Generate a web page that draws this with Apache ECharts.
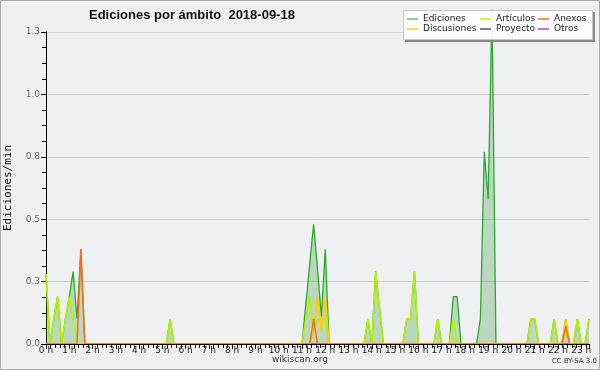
<!DOCTYPE html>
<html>
<head>
<meta charset="utf-8">
<script src="https://cdn.jsdelivr.net/npm/echarts@6/dist/echarts.min.js"></script>
<style>
  html, body { margin: 0; padding: 0; background: #f0f0f0; }
  #box { width: 600px; height: 370px; }
</style>
</head>
<body>
<div id="box"></div>
<script>
// valores cada 10 min (una fila = una hora), ediciones/min
var ediciones = [
	0.28, 0, 0.1, 0.19, 0, 0.1,      // 0 h
	0.19, 0.29, 0.1, 0.38, 0, 0,     // 1 h
	0, 0, 0, 0, 0, 0,                // 2 h
	0, 0, 0, 0, 0, 0,                // 3 h
	0, 0, 0, 0, 0, 0,                // 4 h
	0, 0, 0.1, 0, 0, 0,              // 5 h
	0, 0, 0, 0, 0, 0,                // 6 h
	0, 0, 0, 0, 0, 0,                // 7 h
	0, 0, 0, 0, 0, 0,                // 8 h
	0, 0, 0, 0, 0, 0,                // 9 h
	0, 0, 0, 0, 0, 0,                // 10 h
	0, 0.16, 0.32, 0.48, 0.3, 0.11,  // 11 h
	0.38, 0, 0, 0, 0, 0,             // 12 h
	0, 0, 0, 0, 0, 0.1,              // 13 h
	0, 0.29, 0.14, 0, 0, 0,          // 14 h
	0, 0, 0, 0.1, 0.1, 0.29,         // 15 h
	0, 0, 0, 0, 0, 0.1,              // 16 h
	0, 0, 0, 0.19, 0.19, 0,          // 17 h
	0, 0, 0, 0, 0.1, 0.77,           // 18 h
	0.58, 1.34, 0, 0, 0, 0,          // 19 h
	0, 0, 0, 0, 0, 0.1,              // 20 h
	0.1, 0, 0, 0, 0, 0.1,            // 21 h
	0, 0, 0.1, 0, 0, 0.1,            // 22 h
	0, 0, 0.1                        // 23 h
];
var articulos = [
	0.28, 0, 0.1, 0.19, 0, 0.1,
	0.19, 0.1, 0, 0, 0, 0,
	0, 0, 0, 0, 0, 0,
	0, 0, 0, 0, 0, 0,
	0, 0, 0, 0, 0, 0,
	0, 0, 0.1, 0, 0, 0,
	0, 0, 0, 0, 0, 0,
	0, 0, 0, 0, 0, 0,
	0, 0, 0, 0, 0, 0,
	0, 0, 0, 0, 0, 0,
	0, 0, 0, 0, 0, 0,
	0, 0.1, 0.19, 0.05, 0.1, 0.1,
	0.1, 0, 0, 0, 0, 0,
	0, 0, 0, 0, 0, 0.1,
	0, 0.29, 0.14, 0, 0, 0,
	0, 0, 0, 0.1, 0.1, 0.29,
	0, 0, 0, 0, 0, 0.1,
	0, 0, 0, 0.1, 0, 0,
	0, 0, 0, 0, 0, 0,
	0, 0, 0, 0, 0, 0,
	0, 0, 0, 0, 0, 0.1,
	0.1, 0, 0, 0, 0, 0.1,
	0, 0, 0.05, 0, 0, 0.1,
	0, 0, 0.1
];
var anexos = [
	0, 0, 0, 0, 0, 0,
	0, 0, 0, 0.38, 0, 0,
	0, 0, 0, 0, 0, 0,
	0, 0, 0, 0, 0, 0,
	0, 0, 0, 0, 0, 0,
	0, 0, 0, 0, 0, 0,
	0, 0, 0, 0, 0, 0,
	0, 0, 0, 0, 0, 0,
	0, 0, 0, 0, 0, 0,
	0, 0, 0, 0, 0, 0,
	0, 0, 0, 0, 0, 0,
	0, 0, 0, 0.1, 0, 0,
	0, 0, 0, 0, 0, 0,
	0, 0, 0, 0, 0, 0,
	0, 0, 0, 0, 0, 0,
	0, 0, 0, 0, 0, 0,
	0, 0, 0, 0, 0, 0,
	0, 0, 0, 0, 0, 0,
	0, 0, 0, 0, 0, 0,
	0, 0, 0, 0, 0, 0,
	0, 0, 0, 0, 0, 0,
	0, 0, 0, 0, 0, 0,
	0, 0, 0.07, 0, 0, 0,
	0, 0, 0
];
var discusiones = [
	0, 0, 0, 0, 0, 0,
	0, 0, 0, 0, 0, 0,
	0, 0, 0, 0, 0, 0,
	0, 0, 0, 0, 0, 0,
	0, 0, 0, 0, 0, 0,
	0, 0, 0, 0, 0, 0,
	0, 0, 0, 0, 0, 0,
	0, 0, 0, 0, 0, 0,
	0, 0, 0, 0, 0, 0,
	0, 0, 0, 0, 0, 0,
	0, 0, 0, 0, 0, 0,
	0, 0, 0, 0.05, 0.19, 0.05,
	0.19, 0, 0, 0, 0, 0,
	0, 0, 0, 0, 0, 0,
	0, 0, 0, 0, 0, 0,
	0, 0, 0, 0, 0, 0,
	0, 0, 0, 0, 0, 0,
	0, 0, 0, 0, 0, 0,
	0, 0, 0, 0, 0, 0,
	0, 0, 0, 0, 0, 0,
	0, 0, 0, 0, 0, 0,
	0, 0, 0, 0, 0, 0,
	0, 0, 0.1, 0, 0, 0,
	0, 0, 0
];
var proyecto = [];
var otros = [];
for (var k = 0; k < ediciones.length; k++) {
	proyecto.push(0);
	otros.push(0);
}
var yTickLabels = ['0.0', '0.3', '0.5', '0.8', '1.0', '1.3'];

function toPoints(arr) {
	var out = [];
	for (var i = 0; i < arr.length; i++) {
		out.push([i / 6, arr[i]]);
	}
	return out;
}

var font = 'DejaVu Sans';
var myChart = echarts.init(document.getElementById('box'));

function lineSerie(name, arr, color, width, z) {
	return {
		name: name,
		type: 'line',
		symbol: 'none',
		clip: false,
		z: z,
		lineStyle: { color: color, width: width },
		itemStyle: { color: color },
		data: toPoints(arr)
	};
}

var series = [
	{
		name: 'Ediciones',
		type: 'line',
		symbol: 'none',
		clip: false,
		z: 2,
		lineStyle: { color: '#2fa82f', width: 1.3 },
		itemStyle: { color: '#66c866' },
		areaStyle: { color: 'rgba(60,160,60,0.42)' },
		data: toPoints(ediciones)
	},
	lineSerie('Proyecto', proyecto, '#555555', 1.2, 3),
	lineSerie('Otros', otros, '#9a44ff', 1.2, 3),
	lineSerie('Artículos', articulos, '#b8f000', 1.6, 4),
	lineSerie('Discusiones', discusiones, '#ffcc00', 1.6, 5),
	lineSerie('Anexos', anexos, '#ff6a1a', 1.5, 6)
];

function legendCol(names, left) {
	return {
		data: names,
		orient: 'vertical',
		left: left,
		top: 14,
		padding: 0,
		itemGap: 0,
		itemWidth: 11,
		itemHeight: 1.5,
		icon: 'rect',
		z: 8,
		selectedMode: false,
		textStyle: { fontFamily: font, fontSize: 9, color: '#222', lineHeight: 10 }
	};
}

var option = {
	backgroundColor: '#f0f0f0',
	animation: false,
	title: {
		text: 'Ediciones por ámbito  2018-09-18',
		left: 84,
		top: 4,
		textStyle: { fontFamily: 'Liberation Sans', fontSize: 13, fontWeight: 'bold', color: '#111' }
	},
	legend: [
		legendCol(['Ediciones', 'Discusiones'], 407),
		legendCol(['Artículos', 'Proyecto'], 480),
		legendCol(['Anexos', 'Otros'], 538)
	],
	grid: {
		left: 46,
		top: 32,
		right: 11,
		bottom: 26,
		containLabel: false,
		outerBoundsMode: 'none',
		show: true,
		backgroundColor: '#eef0f2',
		borderWidth: 0
	},
	xAxis: {
		type: 'value',
		min: 0,
		max: 140 / 6,
		interval: 1,
		z: 10,
		axisLine: { lineStyle: { color: '#000', width: 1 } },
		axisTick: { length: 5, lineStyle: { color: '#000' } },
		minorTick: { show: true, splitNumber: 5, length: 4, lineStyle: { color: '#000' } },
		splitLine: { show: false },
		axisLabel: {
			margin: 2,
			showMaxLabel: false,
			fontFamily: font,
			fontSize: 9,
			color: '#222',
			formatter: function (v) {
				return Math.abs(v - Math.round(v)) < 1e-6 ? Math.round(v) + ' h' : '';
			}
		}
	},
	yAxis: {
		type: 'value',
		min: 0,
		max: 1.25,
		interval: 0.25,
		name: 'Ediciones/min',
		nameLocation: 'middle',
		nameRotate: 90,
		nameGap: 32,
		nameTextStyle: { fontFamily: 'DejaVu Sans Mono', fontSize: 11, color: '#111' },
		axisLine: { show: true, lineStyle: { color: '#000', width: 1 } },
		axisTick: { show: true, length: 5, lineStyle: { color: '#000' } },
		minorTick: { show: true, splitNumber: 4, length: 4, lineStyle: { color: '#000' } },
		splitLine: { lineStyle: { color: '#cfcfcf', width: 1 } },
		axisLabel: {
			margin: 6,
			fontFamily: font,
			fontSize: 9,
			color: '#666',
			formatter: function (v) {
				return yTickLabels[Math.round(v / 0.25)];
			}
		}
	},
	graphic: [
		{ type: 'rect', z: 7, shape: { x: 405, y: 39, width: 190, height: 3 }, style: { fill: '#8a8a8a' } },
		{ type: 'rect', z: 7, shape: { x: 593, y: 12, width: 2, height: 30 }, style: { fill: '#8a8a8a' } },
		{ type: 'rect', z: 7, shape: { x: 403.5, y: 10.5, width: 189, height: 29 },
			style: { fill: 'rgba(255,255,255,0.9)', stroke: '#c8c8c8', lineWidth: 1 } },
		{ type: 'text', z: 7, left: 'center', top: 355,
			style: { text: 'wikiscan.org', font: '9px "DejaVu Sans"', fill: '#333' } },
		{ type: 'text', z: 7, right: 3, top: 358,
			style: { text: 'CC BY-SA 3.0', font: '7px "DejaVu Sans"', fill: '#333' } },
		{ type: 'rect', z: 7, shape: { x: 0.5, y: 0.5, width: 599, height: 369 },
			style: { fill: 'none', stroke: '#aaaaaa', lineWidth: 1 } }
	],
	series: series
};
myChart.setOption(option);
</script>
</body>
</html>
